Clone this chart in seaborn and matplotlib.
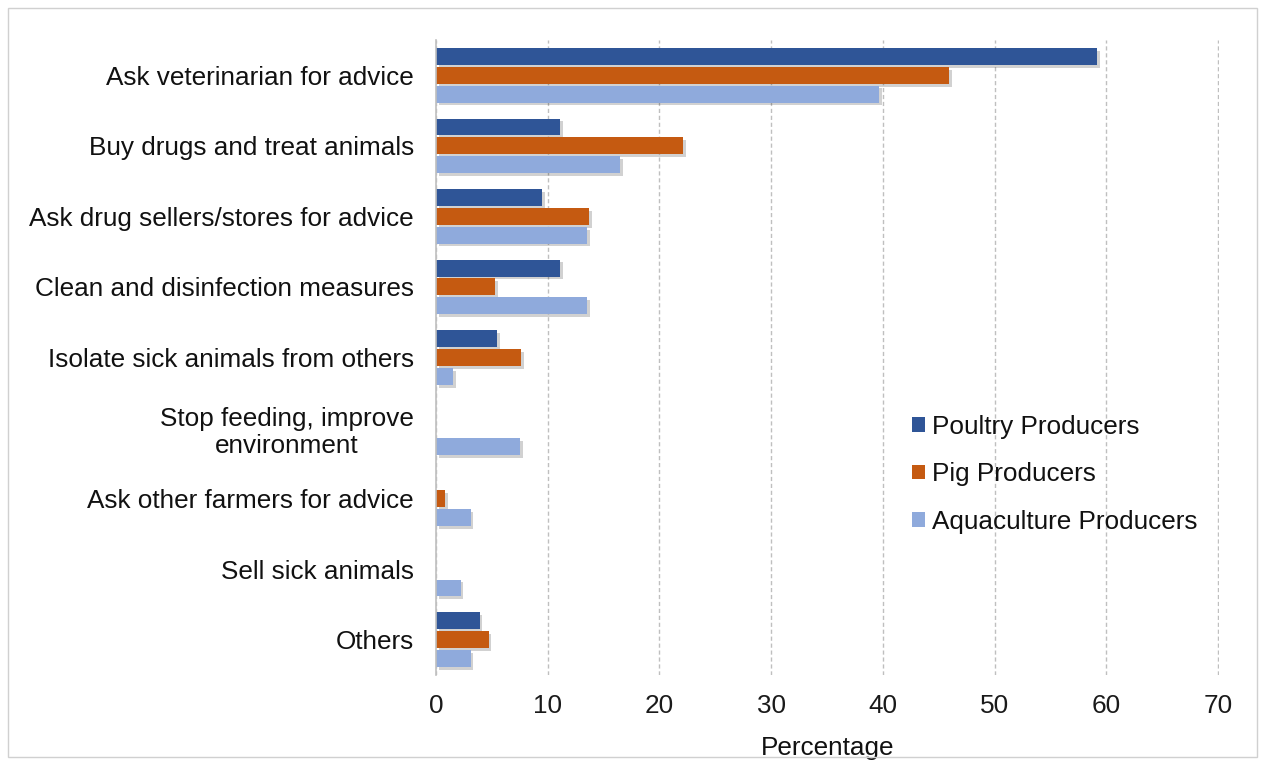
"""Responses to sick animals by producer type - horizontal grouped bars"""

import numpy as np
import pandas as pd
import matplotlib
matplotlib.use('Agg')
import matplotlib.pyplot as plt
import matplotlib.patheffects as pe
from matplotlib.patches import Rectangle
import seaborn as sns

# Data (percentages)
categories = [
    'Ask veterinarian for advice',
    'Buy drugs and treat animals',
    'Ask drug sellers/stores for advice',
    'Clean and disinfection measures',
    'Isolate sick animals from others',
    'Stop feeding, improve\nenvironment',
    'Ask other farmers for advice',
    'Sell sick animals',
    'Others',
]
groups = ['Poultry Producers', 'Pig Producers', 'Aquaculture Producers']
poultry = [59.2, 11.1, 9.5, 11.1, 5.5, np.nan, np.nan, np.nan, 3.9]
pig = [45.9, 22.1, 13.7, 5.3, 7.6, np.nan, 0.8, np.nan, 4.7]
aquaculture = [39.7, 16.5, 13.5, 13.5, 1.5, 7.5, 3.1, 2.2, 3.1]
colors = ['#2F5597', '#C55A11', '#8FAADC']
x_ticks = [0, 10, 20, 30, 40, 50, 60, 70]

df = pd.DataFrame({
    'Category': categories * 3,
    'Group': np.repeat(groups, len(categories)),
    'Value': poultry + pig + aquaculture,
}).dropna()

sns.set_style('white')
plt.rcParams['font.family'] = ['Liberation Sans', 'DejaVu Sans']
FS = 18.8

fig = plt.figure(figsize=(12.65, 7.65), dpi=100)
# axes span 0..70.1 so the last gridline is not clipped at the edge
ax = fig.add_axes([436 / 1265, 1 - 675 / 765, 783.1 / 1265, (675 - 40) / 765])

sns.barplot(data=df, y='Category', x='Value', hue='Group',
            order=categories, hue_order=groups, palette=colors,
            orient='h', width=0.8, gap=0.1, dodge=True, ax=ax,
            errorbar=None, linewidth=0, saturation=1)

# soft drop shadow like the original office chart
for bar in ax.patches:
    bar.set_path_effects([
        pe.SimplePatchShadow(offset=(2, -2), shadow_rgbFace='black', alpha=0.18),
        pe.Normal(),
    ])

ax.set_xlim(0, 70.1)
ax.set_ylim(len(categories) - 0.5, -0.5)
ax.set_xticks(x_ticks)
ax.set_xticklabels([str(t) for t in x_ticks], fontsize=FS, color='#1a1a1a')
ax.tick_params(axis='both', length=0)
ax.tick_params(axis='y', pad=16, labelsize=FS, labelcolor='#111111')
ax.tick_params(axis='x', pad=14)
for lbl in ax.get_yticklabels():
    lbl.set_multialignment('center')

ax.set_xlabel('Percentage', fontsize=FS, labelpad=13, color='#111111')
ax.set_ylabel('')

ax.xaxis.grid(True, linestyle=(0, (3, 2)), color='#BFBFBF', linewidth=1)
ax.set_axisbelow(True)
for side in ['top', 'right', 'bottom']:
    ax.spines[side].set_visible(False)
ax.spines['left'].set_color('#BFBFBF')
ax.spines['left'].set_linewidth(1.2)

leg = ax.legend(loc='upper left', bbox_to_anchor=(0.608, 0.41), frameon=False,
                fontsize=FS, handlelength=0.48, handleheight=0.48,
                handletextpad=0.3, labelspacing=0.9,
                borderpad=0, borderaxespad=0)
for h in leg.legend_handles:
    h.set_path_effects([])
for t in leg.get_texts():
    t.set_color('#111111')

# light outer border around the whole chart
fig.patches.append(Rectangle((8 / 1265, 8 / 765), 1 - 16 / 1265, 1 - 16 / 765,
                             transform=fig.transFigure, fill=False,
                             edgecolor='#D0D0D0', linewidth=1))

fig.savefig('out.png', dpi=100)
